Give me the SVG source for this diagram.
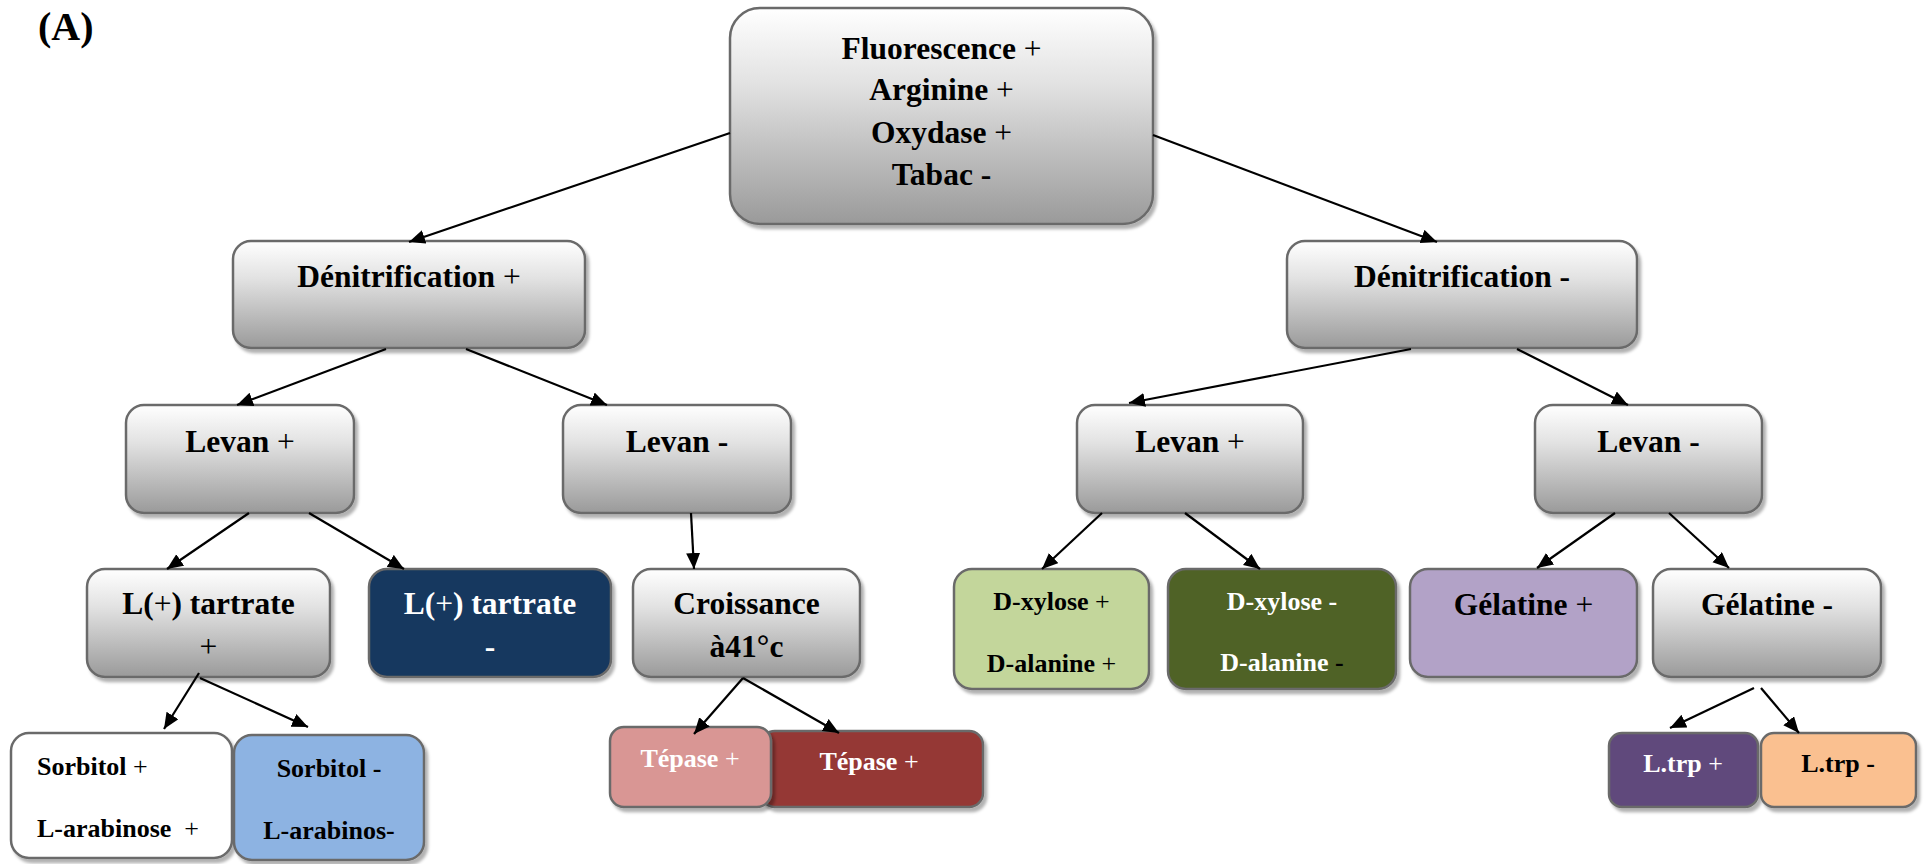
<svg xmlns="http://www.w3.org/2000/svg" width="1924" height="864" viewBox="0 0 1924 864">
  <defs>
    <linearGradient id="silver" x1="0" y1="0" x2="0" y2="1">
      <stop offset="0" stop-color="#ffffff"/>
      <stop offset="0.35" stop-color="#e2e2e2"/>
      <stop offset="1" stop-color="#9a9a9a"/>
    </linearGradient>
    <filter id="shadow" x="-10%" y="-10%" width="125%" height="130%">
      <feDropShadow dx="3" dy="4" stdDeviation="1.5" flood-color="#000000" flood-opacity="0.3"/>
    </filter>
    <marker id="arrow" markerUnits="userSpaceOnUse" markerWidth="17" markerHeight="15" refX="16" refY="7" orient="auto">
      <path d="M0,0 L16,7 L0,14 Z" fill="#000000"/>
    </marker>
  </defs>
  <style>
    .box { stroke: #6b6b6b; stroke-width: 2.5; filter: url(#shadow); }
    .grad { fill: url(#silver); }
    .t { font-family: "Liberation Serif", "Times New Roman", serif; font-weight: bold; font-size: 31.5px; text-anchor: middle; fill: #000000; }
    .s { font-size: 26px; }
    .w { fill: #ffffff; }
    .p { font-weight: normal; }
    .link { stroke: #000000; stroke-width: 2.2; fill: none; marker-end: url(#arrow); }
  </style>

  <rect width="1924" height="864" fill="#ffffff"/>

  <text x="38" y="40" class="t" style="text-anchor:start;font-size:40px">(A)</text>

  <g id="root">
    <rect class="box grad" x="730" y="8" width="423" height="216" rx="30"/>
    <text class="t" x="941.5" y="59">Fluorescence <tspan class="p">+</tspan></text>
    <text class="t" x="941.5" y="100">Arginine <tspan class="p">+</tspan></text>
    <text class="t" x="941.5" y="143">Oxydase <tspan class="p">+</tspan></text>
    <text class="t" x="941.5" y="185">Tabac -</text>
  </g>

  <g id="denit-pos">
    <rect class="box grad" x="233" y="241" width="352" height="107" rx="18"/>
    <text class="t" x="409" y="287">Dénitrification <tspan class="p">+</tspan></text>
  </g>

  <g id="denit-neg">
    <rect class="box grad" x="1287" y="241" width="350" height="107" rx="18"/>
    <text class="t" x="1462" y="287">Dénitrification -</text>
  </g>

  <g id="levan-pos-left">
    <rect class="box grad" x="126" y="405" width="228" height="108" rx="18"/>
    <text class="t" x="240" y="452">Levan <tspan class="p">+</tspan></text>
  </g>

  <g id="levan-neg-left">
    <rect class="box grad" x="563" y="405" width="228" height="108" rx="18"/>
    <text class="t" x="677" y="452">Levan -</text>
  </g>

  <g id="levan-pos-right">
    <rect class="box grad" x="1077" y="405" width="226" height="108" rx="18"/>
    <text class="t" x="1190" y="452">Levan <tspan class="p">+</tspan></text>
  </g>

  <g id="levan-neg-right">
    <rect class="box grad" x="1535" y="405" width="227" height="108" rx="18"/>
    <text class="t" x="1648.5" y="452">Levan -</text>
  </g>

  <g id="tartrate-pos">
    <rect class="box grad" x="87" y="569" width="243" height="108" rx="18"/>
    <text class="t" x="208.5" y="614">L(<tspan class="p">+</tspan>) tartrate</text>
    <text class="t p" x="208.5" y="657">+</text>
  </g>

  <g id="tartrate-neg">
    <rect class="box" x="369" y="569" width="242" height="108" rx="18" fill="#17375e"/>
    <text class="t w" x="490" y="614">L(<tspan class="p">+</tspan>) tartrate</text>
    <text class="t w" x="490" y="657">-</text>
  </g>

  <g id="croissance">
    <rect class="box grad" x="633" y="569" width="227" height="108" rx="18"/>
    <text class="t" x="746.5" y="614">Croissance</text>
    <text class="t" x="746.5" y="657">à41°c</text>
  </g>

  <g id="xylose-pos">
    <rect class="box" x="954" y="569" width="195" height="120" rx="18" fill="#c3d69b"/>
    <text class="t s" x="1051.5" y="610">D-xylose <tspan class="p">+</tspan></text>
    <text class="t s" x="1051.5" y="672">D-alanine <tspan class="p">+</tspan></text>
  </g>

  <g id="xylose-neg">
    <rect class="box" x="1168" y="569" width="228" height="120" rx="18" fill="#4f6228"/>
    <text class="t s w" x="1282" y="610">D-xylose -</text>
    <text class="t s w" x="1282" y="671">D-alanine <tspan fill="#000000">-</tspan></text>
  </g>

  <g id="gelatine-pos">
    <rect class="box" x="1410" y="569" width="227" height="108" rx="18" fill="#b2a2c7"/>
    <text class="t" x="1523.5" y="615">Gélatine <tspan class="p">+</tspan></text>
  </g>

  <g id="gelatine-neg">
    <rect class="box grad" x="1653" y="569" width="228" height="108" rx="18"/>
    <text class="t" x="1767" y="615">Gélatine -</text>
  </g>

  <g id="sorbitol-pos">
    <rect class="box" x="11" y="733" width="221" height="125" rx="18" fill="#ffffff"/>
    <text class="t s" x="37" y="775" style="text-anchor:start">Sorbitol <tspan class="p">+</tspan></text>
    <text class="t s" x="37" y="837" style="text-anchor:start" xml:space="preserve">L-arabinose  <tspan class="p">+</tspan></text>
  </g>

  <g id="sorbitol-neg">
    <rect class="box" x="234" y="735" width="190" height="125" rx="18" fill="#8db3e2"/>
    <text class="t s" x="329" y="777">Sorbitol -</text>
    <text class="t s" x="329" y="839">L-arabinos-</text>
  </g>

  <g id="tepase-dark">
    <rect class="box" x="761" y="731" width="222" height="76" rx="14" fill="#953735"/>
    <text class="t s w" x="869" y="770">Tépase <tspan class="p">+</tspan></text>
  </g>

  <g id="tepase-light">
    <rect class="box" x="610" y="727" width="161" height="80" rx="14" fill="#d99694"/>
    <text class="t s w" x="690" y="767">Tépase <tspan class="p">+</tspan></text>
  </g>

  <g id="trp-pos">
    <rect class="box" x="1609" y="733" width="149" height="74" rx="13" fill="#604a7b"/>
    <text class="t s w" x="1683" y="772">L.trp <tspan class="p">+</tspan></text>
  </g>

  <g id="trp-neg">
    <rect class="box" x="1761" y="733" width="155" height="74" rx="13" fill="#fac090"/>
    <text class="t s" x="1838" y="772">L.trp -</text>
  </g>

  <g id="connectors">
    <line class="link" x1="730" y1="133" x2="409" y2="242"/>
    <line class="link" x1="1153" y1="135" x2="1437" y2="242"/>
    <line class="link" x1="386" y1="349" x2="237" y2="405"/>
    <line class="link" x1="466" y1="349" x2="607" y2="405"/>
    <line class="link" x1="249" y1="513" x2="167" y2="569"/>
    <line class="link" x1="309" y1="513" x2="404" y2="569"/>
    <line class="link" x1="691" y1="513" x2="694" y2="569"/>
    <line class="link" x1="199" y1="673" x2="164" y2="729"/>
    <line class="link" x1="200" y1="678" x2="308" y2="727"/>
    <line class="link" x1="743" y1="678" x2="694" y2="734"/>
    <line class="link" x1="743" y1="678" x2="839" y2="733"/>
    <line class="link" x1="1411" y1="349" x2="1129" y2="403"/>
    <line class="link" x1="1517" y1="349" x2="1628" y2="405"/>
    <line class="link" x1="1102" y1="513" x2="1042" y2="569"/>
    <line class="link" x1="1185" y1="513" x2="1260" y2="569"/>
    <line class="link" x1="1615" y1="513" x2="1537" y2="568"/>
    <line class="link" x1="1669" y1="513" x2="1729" y2="568"/>
    <line class="link" x1="1754" y1="688" x2="1670" y2="728"/>
    <line class="link" x1="1761" y1="688" x2="1799" y2="733"/>
  </g>
</svg>
